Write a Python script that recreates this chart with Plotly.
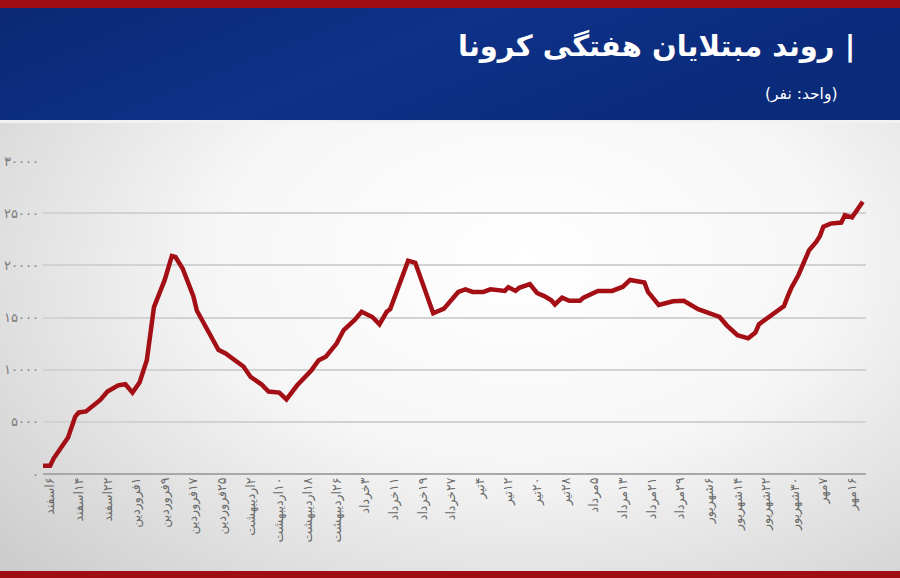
import base64
import plotly.graph_objects as go

# ---- data (days counted from 6 Esfand 1398) ----
days = [-2, 0, 1, 3, 5, 7, 8, 10, 13, 14, 16, 19, 21, 23, 25, 27, 29, 32, 34, 35,
        37, 40, 41, 44, 47, 49, 52, 54, 56, 57, 59, 61, 64, 66, 69, 73, 74, 75, 77, 79,
        80, 82, 85, 87, 90, 92, 94, 95, 100, 102, 105, 107, 110, 112, 114, 116, 118, 121, 123, 127,
        128, 130, 131, 134, 136, 138, 140, 141, 143, 145, 148, 149, 153, 157, 160, 162, 166, 167, 170, 174,
        177, 181, 183, 187, 189, 192, 195, 197, 198, 202, 205, 206, 207, 209, 212, 214, 215, 216, 218, 221,
        222, 224, 225, 226, 227]
cases = [800, 800, 1500, 2450, 3500, 5500, 5900, 6000, 6800, 7100, 7900, 8500, 8600, 7800, 8800, 10900, 16000, 18600, 20900, 20800,
         19700, 17050, 15650, 13800, 11900, 11550, 10750, 10300, 9300, 9050, 8600, 7900, 7800, 7150, 8500, 9950, 10350, 10900, 11250, 12150,
         12500, 13800, 14750, 15550, 15050, 14350, 15550, 15800, 20450, 20250, 17450, 15400, 15850, 16650, 17450, 17700, 17450, 17450, 17700, 17550,
         17900, 17550, 17850, 18200, 17350, 17050, 16650, 16250, 16900, 16600, 16600, 16900, 17550, 17550, 17950, 18600, 18350, 17450, 16200, 16550,
         16600, 15800, 15550, 15050, 14250, 13300, 13000, 13550, 14350, 15300, 16100, 17000, 17800, 19050, 21450, 22250, 22800, 23700, 24000, 24100,
         24800, 24600, 25100, 25600, 26100]

tick_days = list(range(0, 225, 8))
tick_labels = ["۶اسفند", "۱۴اسفند", "۲۲اسفند", "۱فروردین", "۹فروردین", "۱۷فروردین", "۲۵فروردین",
               "۲اردیبهشت", "۱۰اردیبهشت", "۱۸اردیبهشت", "۲۶اردیبهشت", "۳خرداد", "۱۱خرداد", "۱۹خرداد",
               "۲۷خرداد", "۴تیر", "۱۲تیر", "۲۰تیر", "۲۸تیر", "۵مرداد", "۱۳مرداد", "۲۱مرداد", "۲۹مرداد",
               "۶شهریور", "۱۴شهریور", "۲۲شهریور", "۳۰شهریور", "۷مهر", "۱۶مهر"]
y_vals = [0, 5000, 10000, 15000, 20000, 25000, 30000]
y_labels = ["۰", "۵۰۰۰", "۱۰۰۰۰", "۱۵۰۰۰", "۲۰۰۰۰", "۲۵۰۰۰", "۳۰۰۰۰"]

title_text = "| روند مبتلایان هفتگی کرونا"
subtitle_text = "(واحد: نفر)"

RLE, PDF = "\u202B", "\u202C"

W, H = 900, 578
ML, MR, MT, MB = 43, 34, 161, 104
PW, PH = W - ML - MR, H - MT - MB


def px(xp):
    return (xp - ML) / PW


def py(yp):
    return (H - MB - yp) / PH


svg_body = """<svg xmlns='http://www.w3.org/2000/svg' width='100' height='100' viewBox='0 0 100 100' preserveAspectRatio='none'>
<defs><radialGradient id='g' cx='0.58' cy='0.45' r='0.75'>
<stop offset='0' stop-color='#ffffff'/><stop offset='0.45' stop-color='#f6f6f6'/><stop offset='1' stop-color='#cdcdcd'/>
</radialGradient></defs>
<rect x='0' y='0' width='100' height='100' fill='url(#g)'/></svg>"""
svg_head = """<svg xmlns='http://www.w3.org/2000/svg' width='100' height='100' viewBox='0 0 100 100' preserveAspectRatio='none'>
<defs><linearGradient id='b' x1='0' y1='0' x2='1' y2='0.3'>
<stop offset='0' stop-color='#0a2874'/><stop offset='0.5' stop-color='#0e3288'/><stop offset='1' stop-color='#0a2a7a'/>
</linearGradient></defs>
<rect x='0' y='0' width='100' height='100' fill='url(#b)'/></svg>"""


def uri(s):
    return "data:image/svg+xml;base64," + base64.b64encode(s.encode("utf-8")).decode("ascii")


def rect(x0, y0, x1, y1, color):
    return dict(type="rect", xref="paper", yref="paper", x0=px(x0), x1=px(x1), y0=py(y0), y1=py(y1),
                fillcolor=color, line=dict(width=0), layer="below")


fig = go.Figure()
fig.add_trace(go.Scatter(
    x=days, y=cases, mode="lines",
    line=dict(color="#a30f14", width=4.5),
    hoverinfo="skip", showlegend=False,
))

fig.update_layout(
    width=W, height=H,
    margin=dict(l=ML, r=MR, t=MT, b=MB, autoexpand=False),
    paper_bgcolor="#e6e6e6",
    plot_bgcolor="rgba(0,0,0,0)",
    images=[
        dict(source=uri(svg_body), xref="paper", yref="paper",
             x=px(-10), y=py(-10), sizex=(W + 20) / PW, sizey=(H + 20) / PH,
             xanchor="left", yanchor="top", sizing="stretch", layer="below"),
        dict(source=uri(svg_head), xref="paper", yref="paper",
             x=px(-10), y=py(8), sizex=(W + 20) / PW, sizey=112 / PH,
             xanchor="left", yanchor="top", sizing="stretch", layer="below"),
    ],
    shapes=[
        rect(-10, -10, W + 10, 8, "#a00d12"),
        rect(-10, 120, W + 10, 123, "#f2f2f2"),
        rect(-10, 571, W + 10, H + 10, "#a00d12"),
    ],
    xaxis=dict(
        range=[-2.0, 227.9], tickmode="array", tickvals=tick_days,
        ticktext=[RLE + t + PDF for t in tick_labels], automargin=False,
        tickangle=-90, showgrid=False, zeroline=False, showline=False,
        ticks="", tickfont=dict(family="DejaVu Sans", size=12.5, color="#6a6a6a"),
    ),
    yaxis=dict(
        range=[0, 30000], tickmode="array", tickvals=y_vals, ticktext=y_labels,
        showgrid=True, gridcolor="#d2d2d2", gridwidth=1.5, automargin=False,
        zeroline=True, zerolinecolor="#a8a8a8", zerolinewidth=2,
        showline=False, ticks="", ticklabelstandoff=3,
        tickfont=dict(family="DejaVu Sans", size=13, color="#7a7a7a"),
    ),
    annotations=[
        dict(text="<b>" + RLE + title_text + PDF + "</b>", xref="paper", yref="paper",
             x=px(857), y=py(46), xanchor="right", yanchor="middle", showarrow=False,
             font=dict(family="DejaVu Sans", size=29, color="white")),
        dict(text=RLE + subtitle_text + PDF, xref="paper", yref="paper",
             x=px(839), y=py(95), xanchor="right", yanchor="middle", showarrow=False,
             font=dict(family="DejaVu Sans", size=15.5, color="white")),
    ],
)

fig.write_html("out.html", config={"displayModeBar": False},
               post_script="document.body.style.margin='0';document.body.style.padding='0';"
                           "document.body.style.overflow='hidden';")
